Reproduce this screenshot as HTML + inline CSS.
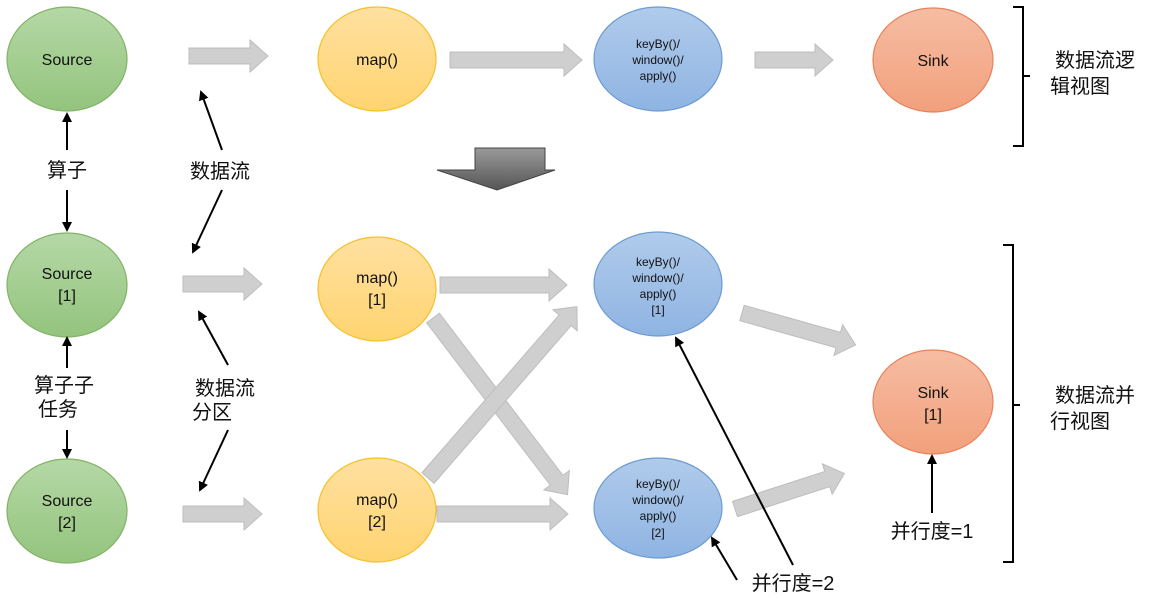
<!DOCTYPE html>
<html><head><meta charset="utf-8"><style>
body{margin:0;background:#fff}
svg{display:block;font-family:"Liberation Sans","Noto Sans CJK SC",sans-serif}
</style></head><body>
<svg width="1150" height="601" viewBox="0 0 1150 601" xmlns="http://www.w3.org/2000/svg">
<defs>
<linearGradient id="g" x1="0" y1="0" x2="0" y2="1"><stop offset="0" stop-color="#b5d8a6"/><stop offset="1" stop-color="#93c47d"/></linearGradient>
<linearGradient id="y" x1="0" y1="0" x2="0" y2="1"><stop offset="0" stop-color="#ffe0a0"/><stop offset="1" stop-color="#ffd470"/></linearGradient>
<linearGradient id="b" x1="0" y1="0" x2="0" y2="1"><stop offset="0" stop-color="#b0cbeb"/><stop offset="1" stop-color="#8fb4e2"/></linearGradient>
<linearGradient id="r" x1="0" y1="0" x2="0" y2="1"><stop offset="0" stop-color="#f6bda3"/><stop offset="1" stop-color="#f2a07c"/></linearGradient>
<linearGradient id="d" x1="0" y1="0" x2="0" y2="1"><stop offset="0" stop-color="#9a9a9a"/><stop offset="1" stop-color="#555"/></linearGradient>
<marker id="m" markerWidth="10" markerHeight="10" refX="8" refY="5" orient="auto" markerUnits="userSpaceOnUse"><path d="M0,0 L10,5 L0,10 Z" fill="#000"/></marker>
<g id="ba"><polygon points="0,-8 1,-8 1,-8" fill="none"/></g>
</defs>
<g fill="#cfcfcf" stroke="#bdbdbd" stroke-width="1">
<!-- block arrows: body height 16, head 34 -->
<polygon points="189,48 250,48 250,40 268,56 250,72 250,64 189,64"/>
<polygon points="450,52 564,52 564,44 582,60 564,76 564,68 450,68"/>
<polygon points="755,52 815,52 815,44 833,60 815,76 815,68 755,68"/>
<polygon points="183,276 244,276 244,268 262,284 244,300 244,292 183,292"/>
<polygon points="440,277 549,277 549,269 567,285 549,301 549,293 440,293"/>
<polygon points="183,506 244,506 244,498 262,514 244,530 244,522 183,522"/>
<polygon points="437,506 550,506 550,498 568,514 550,530 550,522 437,522"/>
<g transform="translate(433,318) rotate(52.7)"><polygon points="0,-8 204,-8 204,-16 222,0 204,16 204,8 0,8"/></g>
<g transform="translate(428,478) rotate(-49)"><polygon points="0,-8 209,-8 209,-16 227,0 209,16 209,8 0,8"/></g>
<g transform="translate(742,313) rotate(15.7)"><polygon points="0,-8 100,-8 100,-16 118,0 100,16 100,8 0,8"/></g>
<g transform="translate(735,509) rotate(-18)"><polygon points="0,-8 97,-8 97,-16 115,0 97,16 97,8 0,8"/></g>
</g>
<polygon points="475,148 545,148 545,170 555,170 497,190 437,170 475,170" fill="url(#d)" stroke="#444"/>
<!-- nodes -->
<g stroke-width="1.2">
<ellipse cx="67" cy="59" rx="60" ry="52" fill="url(#g)" stroke="#82b366"/>
<ellipse cx="67" cy="285" rx="60" ry="52" fill="url(#g)" stroke="#82b366"/>
<ellipse cx="67" cy="511" rx="60" ry="52" fill="url(#g)" stroke="#82b366"/>
<ellipse cx="377" cy="59" rx="59" ry="52" fill="url(#y)" stroke="#f5c02a"/>
<ellipse cx="377" cy="289" rx="59" ry="52" fill="url(#y)" stroke="#f5c02a"/>
<ellipse cx="377" cy="510" rx="59" ry="52" fill="url(#y)" stroke="#f5c02a"/>
<ellipse cx="658" cy="59" rx="64" ry="52" fill="url(#b)" stroke="#6c9bd2"/>
<ellipse cx="658" cy="284" rx="64" ry="52" fill="url(#b)" stroke="#6c9bd2"/>
<ellipse cx="658" cy="508" rx="64" ry="50" fill="url(#b)" stroke="#6c9bd2"/>
<ellipse cx="933" cy="60" rx="60" ry="52" fill="url(#r)" stroke="#e8825a"/>
<ellipse cx="933" cy="402" rx="60" ry="52" fill="url(#r)" stroke="#e8825a"/>
</g>
<g font-size="16" text-anchor="middle" fill="#111">
<text x="67" y="65">Source</text>
<text x="67" y="279">Source</text><text x="67" y="301">[1]</text>
<text x="67" y="506">Source</text><text x="67" y="528">[2]</text>
<text x="377" y="65">map()</text>
<text x="377" y="283">map()</text><text x="377" y="305">[1]</text>
<text x="377" y="505">map()</text><text x="377" y="527">[2]</text>
<text x="933" y="66">Sink</text>
<text x="933" y="398">Sink</text><text x="933" y="420">[1]</text>
</g>
<g font-size="12" text-anchor="middle" fill="#111">
<text x="658" y="48">keyBy()/</text><text x="658" y="64">window()/</text><text x="658" y="80">apply()</text>
<text x="658" y="266">keyBy()/</text><text x="658" y="282">window()/</text><text x="658" y="298">apply()</text><text x="658" y="314">[1]</text>
<text x="658" y="488">keyBy()/</text><text x="658" y="504">window()/</text><text x="658" y="520">apply()</text><text x="658" y="537">[2]</text>
</g>
<g font-size="20" fill="#111" text-anchor="middle">
<text x="67" y="177">算子</text>
<text x="220" y="178">数据流</text>
<text x="64" y="392">算子子</text><text x="58" y="416">任务</text>
<text x="225" y="395">数据流</text><text x="212" y="419">分区</text>
<text x="793" y="590">并行度=2</text>
<text x="932" y="538">并行度=1</text>
<text x="1095" y="67" >数据流逻</text><text x="1080" y="93">辑视图</text>
<text x="1095" y="402">数据流并</text><text x="1080" y="428">行视图</text>
</g>
<g stroke="#000" stroke-width="2" marker-end="url(#m)">
<line x1="67" y1="150" x2="67" y2="114"/>
<line x1="67" y1="190" x2="67" y2="230"/>
<line x1="222" y1="150" x2="201" y2="92"/>
<line x1="222" y1="190" x2="193" y2="252"/>
<line x1="67" y1="368" x2="67" y2="338"/>
<line x1="67" y1="430" x2="67" y2="457"/>
<line x1="228" y1="365" x2="199" y2="312"/>
<line x1="228" y1="430" x2="200" y2="490"/>
<line x1="793" y1="565" x2="676" y2="338"/>
<line x1="737" y1="580" x2="712" y2="538"/>
<line x1="932" y1="513" x2="932" y2="456"/>
</g>
<g fill="none" stroke="#000" stroke-width="2">
<path d="M1013,7 H1023 V76 L1030,76 M1023,76 V146 H1013"/>
<path d="M1003,245 H1013 V405 L1020,405 M1013,405 V562 H1003"/>
</g>
</svg>
</body></html>
